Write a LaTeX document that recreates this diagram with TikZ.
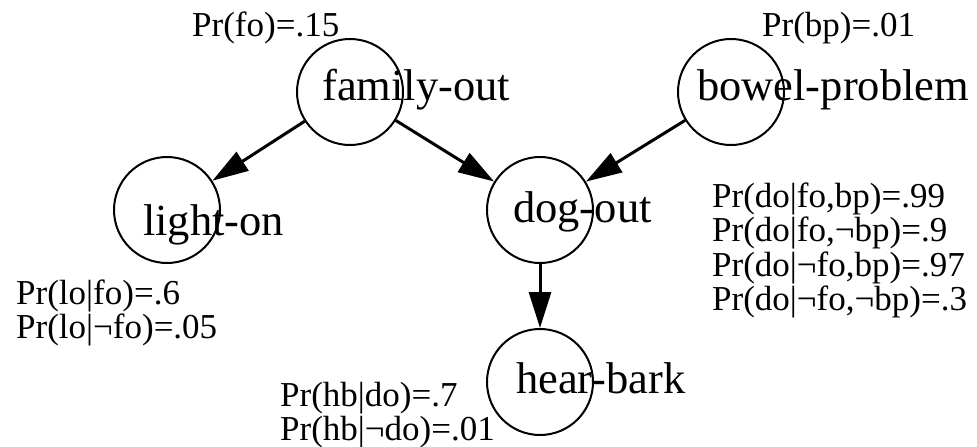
\documentclass[tikz,border=0pt]{standalone}
\usepackage{fontspec}
\setmainfont{Liberation Serif}
\usetikzlibrary{arrows.meta}
\tikzset{
  var/.style={circle, draw, line width=2pt, minimum size=106pt, inner sep=0pt},
  varlabel/.style={anchor=base west, inner sep=0pt, font=\fontsize{44.5}{44.5}\selectfont},
  prob/.style={anchor=base west, inner sep=0pt, font=\fontsize{35}{35}\selectfont},
  link/.style={line width=3pt, -{Triangle[length=36pt,width=22pt]}}
}
\begin{document}
\begin{tikzpicture}[x=1pt,y=-1pt]
\useasboundingbox (0,0) rectangle (977,447);
% circles
\node[var] (fo) at (350,92) {};
\node[var] (bp) at (731,92) {};
\node[var] (lo) at (167,210) {};
\node[var] (do) at (540,210) {};
\node[var] (hb) at (540,382) {};
% variable names
\node[varlabel] (fot) at (322,100) {family-out};
\node[varlabel] (bpt) at (697,100) {bowel-problem};
\node[varlabel] (lot) at (143,235) {light-on};
\node[varlabel] (dot) at (513,222) {dog-out};
\node[varlabel] (hbt) at (516,393) {hear-bark};
% probabilities
\node[prob] (pfo) at (192,36) {Pr(fo)=.15};
\node[prob] (pbp) at (762,36) {Pr(bp)=.01};
\node[prob] (plo1) at (16,304) {Pr(lo|fo)=.6};
\node[prob] (plo2) at (16,338.5) {Pr(lo|¬fo)=.05};
\node[prob] (pdo1) at (712,207) {Pr(do|fo,bp)=.99};
\node[prob] (pdo2) at (712,241.5) {Pr(do|fo,¬bp)=.9};
\node[prob] (pdo3) at (712,276) {Pr(do|¬fo,bp)=.97};
\node[prob] (pdo4) at (712,310.5) {Pr(do|¬fo,¬bp)=.3};
\node[prob] (phb1) at (280,406) {Pr(hb|do)=.7};
\node[prob] (phb2) at (280,440) {Pr(hb|¬do)=.01};
% edges
\draw[link] (fo) -- (lo);
\draw[link] (fo) -- (do);
\draw[link] (bp) -- (do);
\draw[link] (do) -- (hb);
\end{tikzpicture}
\end{document}
